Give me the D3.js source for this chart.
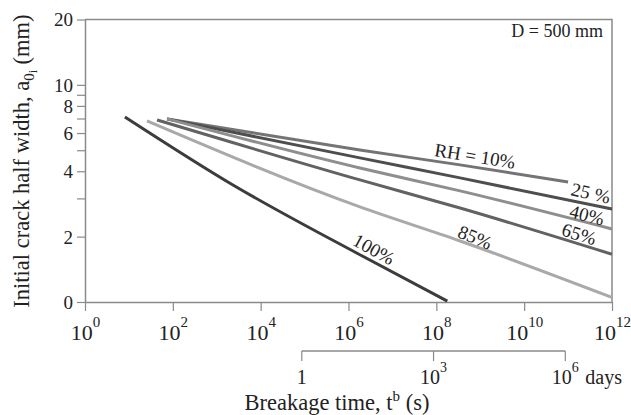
<!DOCTYPE html>
<html>
<head>
<meta charset="utf-8">
<script src="https://cdn.jsdelivr.net/npm/d3@7/dist/d3.min.js"></script>
<style>
  html, body { margin: 0; padding: 0; background: #fff; }
  svg { display: block; }
  text { font-family: "Liberation Serif", "Times New Roman", serif; fill: #222; }
</style>
</head>
<body>
<svg id="chart" width="631" height="415"></svg>
<script>
// Breakage time vs initial crack half width, D = 500 mm, for several relative humidities
const seriesNames = ["RH = 10%", "25 %", "40%", "65%", "85%", "100%"];

// [breakage time (s), initial crack half width (mm)]
const rh10  = [[74, 6.97], [1.82e6, 5.01], [3.47e8, 4.28], [1e11, 3.57]];
const rh25  = [[74, 6.97], [1.82e6, 4.61], [3.47e8, 3.73], [1e12, 2.68]];
const rh40  = [[74, 6.97], [1.82e6, 4.14], [3.47e8, 3.25], [1e12, 2.17]];
const rh65  = [[43.7, 6.89], [1.82e6, 3.65], [3.47e8, 2.71], [1e12, 1.66]];
const rh85  = [[25.7, 6.82], [1.82e6, 2.74], [3.47e8, 1.91], [1e12, 1.05]];
const rh100 = [[8.1, 7.12], [2340, 3.46], [1.82e6, 1.65], [1.78e8, 1.01]];

// where each series name sits along its curve [time (s), width (mm), angle (deg)]
const labelSpots = [[7.6e8, 4.71, 9], [3.3e11, 3.18, 13], [2.7e11, 2.52, 14],
                    [1.78e11, 2.06, 17], [7.6e8, 1.99, 22], [3.8e6, 1.75, 29]];

const lineColors = ["#747474", "#4e4e4e", "#8e8e8e", "#626262", "#a9a9a9", "#3c3c3c"];

const yTickValues = [1, 2, 3, 4, 5, 6, 7, 8, 9, 10, 20];
const yTickLabels = ["0", "2", "", "4", "", "6", "", "8", "", "10", "20"];
const xTickExponents = [0, 2, 4, 6, 8, 10, 12];
const dayTicks = [1, 1e3, 1e6];
const dayTickLabels = [["1", ""], ["10", "3"], ["10", "6"]];
const secondsPerDay = 86400;

const svg = d3.select("#chart");
const axisGray = "#8a8a8a";

const plotLeft = 85, plotRight = 612, plotTop = 19.5, plotBottom = 302;

const x = d3.scaleLog().domain([1, 1e12]).range([plotLeft, plotRight]);
const y = d3.scaleLog().domain([1, 20]).range([plotBottom, plotTop]);

// frame (top and right edges)
svg.append("path")
  .attr("d", `M${plotLeft},${plotTop}H${plotRight}V${plotBottom}`)
  .attr("fill", "none").attr("stroke", axisGray).attr("stroke-width", 1.5);

// y axis
const yAxis = svg.append("g")
  .attr("transform", `translate(${plotLeft},0)`)
  .call(d3.axisLeft(y).tickValues(yTickValues).tickSize(8).tickSizeOuter(0)
    .tickFormat((d, i) => yTickLabels[i]));
yAxis.select(".domain").attr("stroke", axisGray).attr("stroke-width", 1.5);
yAxis.selectAll(".tick line").attr("stroke", axisGray).attr("stroke-width", 1.2);
yAxis.selectAll(".tick text")
  .attr("x", -12).attr("dy", "0.34em")
  .style("font-family", "'Liberation Serif', 'Times New Roman', serif")
  .style("font-size", "19px").attr("fill", "#222");

// x axis (seconds)
const xAxis = svg.append("g")
  .attr("transform", `translate(0,${plotBottom})`)
  .call(d3.axisBottom(x).tickValues(xTickExponents.map(e => Math.pow(10, e)))
    .tickSize(9).tickSizeOuter(0).tickFormat(() => ""));
xAxis.select(".domain").attr("stroke", axisGray).attr("stroke-width", 1.5);
xAxis.selectAll(".tick line").attr("stroke", axisGray).attr("stroke-width", 1.2);
xAxis.selectAll(".tick text").remove();
xAxis.selectAll(".tick").each(function(d, i) {
  const t = d3.select(this).append("text")
    .attr("y", 38).attr("text-anchor", "middle")
    .style("font-size", "22px");
  t.append("tspan").text("10");
  t.append("tspan").attr("dy", -13).style("font-size", "15px").text(String(xTickExponents[i]));
});

// secondary time axis (days)
const dayX = dayTicks.map(d => x(d * secondsPerDay));
const dayY = 351;
const dayAxis = svg.append("g");
dayAxis.append("line")
  .attr("x1", dayX[0]).attr("x2", dayX[dayX.length - 1])
  .attr("y1", dayY).attr("y2", dayY)
  .attr("stroke", axisGray).attr("stroke-width", 1.5);
dayAxis.selectAll("line.tk").data(dayX).join("line").attr("class", "tk")
  .attr("x1", d => d).attr("x2", d => d)
  .attr("y1", dayY).attr("y2", dayY + 10)
  .attr("stroke", axisGray).attr("stroke-width", 1.2);
dayAxis.selectAll("text.dl").data(dayX).join("text").attr("class", "dl")
  .attr("x", d => d).attr("y", dayY + 33)
  .attr("text-anchor", "middle").style("font-size", "20px")
  .each(function(d, i) {
    const t = d3.select(this);
    t.append("tspan").text(dayTickLabels[i][0]);
    if (dayTickLabels[i][1]) {
      t.append("tspan").attr("dy", -12).style("font-size", "14px").text(dayTickLabels[i][1]);
    }
  });
svg.append("text")
  .attr("x", dayX[dayX.length - 1] + 20).attr("y", dayY + 33)
  .style("font-size", "20px").text("days");

// curves
const line = d3.line()
  .x(d => x(d[0])).y(d => y(d[1]))
  .curve(d3.curveMonotoneX);
const allSeries = [rh10, rh25, rh40, rh65, rh85, rh100];
svg.append("g").selectAll("path")
  .data(allSeries).join("path")
  .attr("d", line)
  .attr("fill", "none")
  .attr("stroke", (d, i) => lineColors[i])
  .attr("stroke-width", 3)
  .attr("stroke-linecap", "butt");

// curve labels
svg.append("g").selectAll("text")
  .data(labelSpots).join("text")
  .attr("transform", d => `translate(${x(d[0])},${y(d[1])}) rotate(${d[2]})`)
  .attr("text-anchor", "middle").attr("dy", "0.35em")
  .style("font-size", "19px")
  .text((d, i) => seriesNames[i]);

// panel note
svg.append("text")
  .attr("x", 603).attr("y", 37).attr("text-anchor", "end")
  .style("font-size", "18px").text("D = 500 mm");

// axis titles
const xTitle = svg.append("text")
  .attr("x", 337).attr("y", 409.5).attr("text-anchor", "middle")
  .style("font-size", "22.5px");
xTitle.append("tspan").text("Breakage time, t");
xTitle.append("tspan").attr("dy", -9).style("font-size", "15px").text("b");
xTitle.append("tspan").attr("dy", 9).text(" (s)");

const yTitle = svg.append("text")
  .attr("transform", "translate(29,161) rotate(-90)")
  .attr("text-anchor", "middle")
  .style("font-size", "22.5px");
yTitle.append("tspan").text("Initial crack half width, a");
yTitle.append("tspan").attr("dy", 5).style("font-size", "15px").text("0");
yTitle.append("tspan").attr("dy", 3).style("font-size", "12px").text("i");
yTitle.append("tspan").attr("dy", -8).text(" (mm)");
</script>
</body>
</html>
